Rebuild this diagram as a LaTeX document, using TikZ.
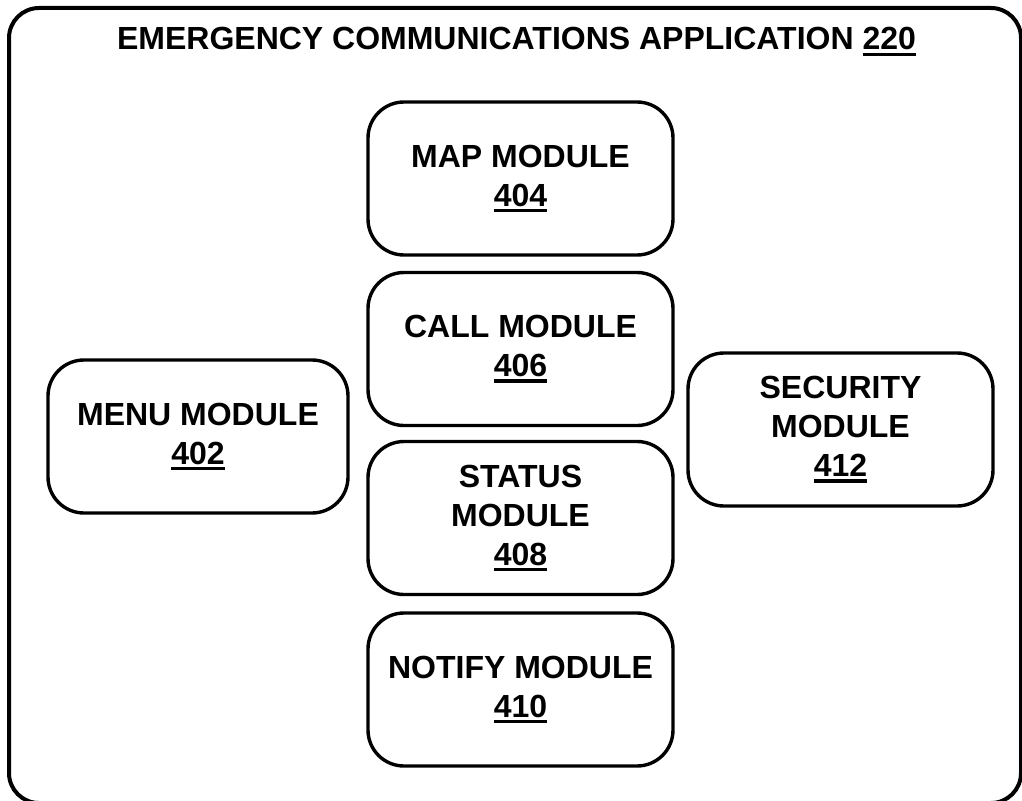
\documentclass[tikz,border=0pt]{standalone}
\usepackage{fontspec}
\setmainfont{Liberation Sans}
% underlined reference numeral with a heavy rule
\newcommand\refnum[1]{\setbox0\hbox{#1}\rlap{\rule[-6pt]{\wd0}{3.2pt}}\box0}
\begin{document}
\begin{tikzpicture}[x=1pt,y=-1pt,
  modbox/.style={draw=black, line width=3.4pt, rounded corners=36pt,
    minimum width=305pt, minimum height=153pt, inner sep=0pt, align=center,
    font=\fontsize{32}{39}\selectfont\bfseries},
  frame/.style={draw=black, line width=4pt, rounded corners=30pt}]
  \useasboundingbox (0,0) rectangle (1022,800);
  % outer application frame
  \node[frame, minimum width=1012pt, minimum height=795pt, inner sep=0pt] (app) at (515,405.5) {};
  \node[font=\fontsize{32}{38}\selectfont\bfseries, anchor=base] (title) at (516.5,50)
    {EMERGENCY COMMUNICATIONS APPLICATION \refnum{220}};
  % modules
  \node[modbox] (map) at (520.5,178.5) {MAP MODULE\\\refnum{404}};
  \node[modbox] (call) at (520.5,349) {CALL MODULE\\\refnum{406}};
  \node[modbox] (status) at (520.5,518) {STATUS\\MODULE\\\refnum{408}};
  \node[modbox] (notify) at (520.5,689.5) {NOTIFY MODULE\\\refnum{410}};
  \node[modbox, minimum width=300pt] (menu) at (198,436.5) {MENU MODULE\\\refnum{402}};
  \node[modbox] (security) at (840.5,429.5) {SECURITY\\MODULE\\\refnum{412}};
\end{tikzpicture}
\end{document}
